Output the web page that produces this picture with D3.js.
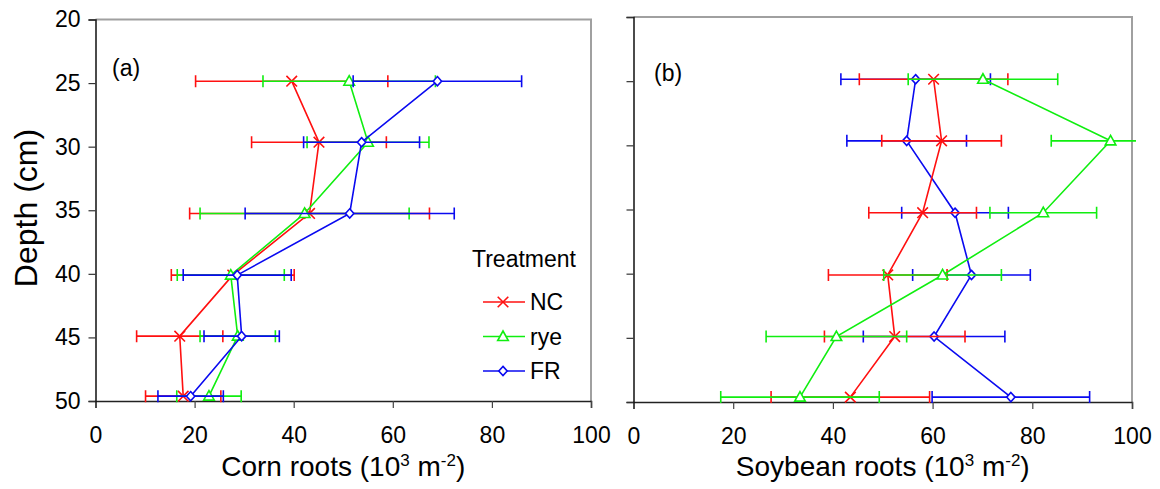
<!DOCTYPE html>
<html>
<head>
<meta charset="utf-8">
<script src="https://cdn.jsdelivr.net/npm/d3@7"></script>
<style>
  html, body { margin: 0; padding: 0; background: #fff; }
  svg { display: block; font-family: "Liberation Sans", Arial, sans-serif; }
</style>
</head>
<body>
<svg id="chart" width="1160" height="489"></svg>
<script>
// ---------------- DATA ----------------
const depths = [24.85, 29.65, 35.25, 40.1, 44.9, 49.62];
const treatments = ["NC", "rye", "FR"];
const xTicks = [0, 20, 40, 60, 80, 100];
const yTicks = [20, 25, 30, 35, 40, 45, 50];

// Corn roots (panel a): means and standard errors
const cornNC = [39.6, 45.1, 43.2, 27.7, 17.0, 17.7];
const cornNCerr = [19.4, 13.6, 24.2, 12.4, 8.7, 7.6];
const cornRye = [51.2, 55.0, 42.2, 27.3, 28.7, 22.9];
const cornRyeErr = [17.4, 12.3, 21.1, 10.8, 7.6, 6.5];
const cornFR = [69.0, 53.7, 51.3, 28.6, 29.5, 19.2];
const cornFRerr = [17.0, 11.7, 21.1, 10.9, 7.6, 6.6];

// Soybean roots (panel b)
const soyNC = [60.2, 61.8, 58.0, 51.0, 52.4, 43.5];
const soyNCerr = [14.9, 12.0, 10.8, 11.9, 14.1, 15.9];
const soyRye = [70.1, 95.7, 82.2, 62.0, 40.7, 33.4];
const soyRyeErr = [15.0, 11.9, 10.7, 11.8, 14.1, 15.9];
const soyFR = [56.6, 54.8, 64.5, 67.8, 60.3, 75.7];
const soyFRerr = [15.0, 12.0, 10.7, 11.8, 14.2, 15.8];

const colors = { NC: "#ff1010", rye: "#10ee10", FR: "#0a0af0" };

// ---------------- DRAW ----------------
const svg = d3.select("#chart");

const panels = [
  { id: "a", label: "(a)", x0: 95.5, x1: 591, yT: 19.5, yB: 401,
    series: [
      { name: "NC", v: cornNC, e: cornNCerr },
      { name: "rye", v: cornRye, e: cornRyeErr },
      { name: "FR", v: cornFR, e: cornFRerr }
    ],
    title: ["Corn roots (10", "3", " m", "-2", ")"], yLabels: true, lx: 112, ly: 76 },
  { id: "b", label: "(b)", x0: 633.5, x1: 1132, yT: 17, yB: 402,
    series: [
      { name: "FR", v: soyFR, e: soyFRerr },
      { name: "NC", v: soyNC, e: soyNCerr },
      { name: "rye", v: soyRye, e: soyRyeErr }
    ],
    title: ["Soybean roots (10", "3", " m", "-2", ")"], yLabels: false, lx: 654, ly: 81 }
];

function markerPath(name) {
  if (name === "NC") return "M-5.3,-5.3L5.3,5.3M-5.3,5.3L5.3,-5.3";
  if (name === "rye") return "M0,-5.5L5.3,4L-5.3,4Z";
  return "M0,-4.6L4.2,0L0,4.6L-4.2,0Z";
}

panels.forEach(p => {
  const x = d3.scaleLinear().domain([0, 100]).range([p.x0, p.x1]);
  const y = d3.scaleLinear().domain([20, 50]).range([p.yT, p.yB]);
  const g = svg.append("g");

  // frame (top & right, gray)
  g.append("path")
    .attr("d", `M${p.x0},${p.yT}H${p.x1}V${p.yB}`)
    .attr("fill", "none").attr("stroke", "#a0a0a0").attr("stroke-width", 2);

  // clip
  const clipId = "clip" + p.id;
  svg.append("clipPath").attr("id", clipId)
    .append("rect").attr("x", p.x0 - 20).attr("y", p.yT).attr("width", p.x1 - p.x0 + 24).attr("height", p.yB - p.yT + 10);

  // x axis
  const xAxis = d3.axisBottom(x).tickValues(xTicks).tickSize(7).tickFormat(d3.format("d"));
  const gx = g.append("g").attr("transform", `translate(0,${p.yB})`).call(xAxis);
  gx.select(".domain").attr("stroke", "#222").attr("stroke-width", 1.5);
  gx.selectAll(".tick line").attr("stroke", "#444").attr("stroke-width", 1.2);
  gx.selectAll(".tick text").attr("font-size", 23).attr("fill", "#000")
    .attr("y", 18).attr("dy", "1.05em")
    .attr("font-family", "Liberation Sans, Arial, sans-serif");

  // y axis
  const yAxis = d3.axisLeft(y).tickValues(yTicks).tickSize(7)
    .tickFormat(p.yLabels ? d3.format("d") : () => "");
  const gy = g.append("g").attr("transform", `translate(${p.x0},0)`).call(yAxis);
  gy.select(".domain").attr("stroke", "#111").attr("stroke-width", 1.5);
  gy.selectAll(".tick line").attr("stroke", "#333").attr("stroke-width", 1.2);
  gy.selectAll(".tick text").attr("font-size", 23).attr("fill", "#000").attr("x", -15)
    .attr("font-family", "Liberation Sans, Arial, sans-serif");

  // series
  const dg = g.append("g").attr("clip-path", `url(#${clipId})`);
  p.series.forEach(s => {
    const col = colors[s.name];
    const pts = s.v.map((v, i) => ({ v, e: s.e[i], d: depths[i] }));
    const sg = dg.append("g");
    // error bars
    pts.forEach(pt => {
      const xl = x(pt.v - pt.e), xr = x(pt.v + pt.e), yy = y(pt.d);
      sg.append("path")
        .attr("d", `M${xl},${yy}H${xr}M${xl},${yy - 6}V${yy + 6}M${xr},${yy - 6}V${yy + 6}`)
        .attr("fill", "none").attr("stroke", col).attr("stroke-width", 1.6);
    });
    // line
    sg.append("path").datum(pts)
      .attr("d", d3.line().x(d => x(d.v)).y(d => y(d.d)))
      .attr("fill", "none").attr("stroke", col).attr("stroke-width", 1.6);
    // markers
    sg.selectAll(".m").data(pts).enter().append("path")
      .attr("transform", d => `translate(${x(d.v)},${y(d.d)})`)
      .attr("d", markerPath(s.name))
      .attr("fill", s.name === "NC" ? "none" : "#fff")
      .attr("stroke", col).attr("stroke-width", 1.6);
  });

  // panel label
  g.append("text").attr("x", p.lx).attr("y", p.ly).attr("font-size", 23).text(p.label);

  // x title
  const t = g.append("text").attr("x", (p.x0 + p.x1) / 2).attr("y", 476)
    .attr("text-anchor", "middle").attr("font-size", 28);
  t.append("tspan").text(p.title[0]);
  t.append("tspan").attr("dy", -10).attr("font-size", 17).text(p.title[1]);
  t.append("tspan").attr("dy", 10).text(p.title[2]);
  t.append("tspan").attr("dy", -10).attr("font-size", 17).text(p.title[3]);
  t.append("tspan").attr("dy", 10).text(p.title[4]);
});

// y title
svg.append("text")
  .attr("transform", "translate(37,208) rotate(-90)")
  .attr("text-anchor", "middle").attr("font-size", 32).text("Depth (cm)");

// legend
const leg = svg.append("g");
leg.append("text").attr("x", 472).attr("y", 267).attr("font-size", 23).text("Treatment");
const legY = [302, 336.5, 371];
treatments.forEach((name, i) => {
  const col = colors[name];
  leg.append("line").attr("x1", 483).attr("x2", 525).attr("y1", legY[i]).attr("y2", legY[i])
    .attr("stroke", col).attr("stroke-width", 1.6);
  leg.append("path").attr("transform", `translate(503,${legY[i]})`)
    .attr("d", markerPath(name)).attr("fill", name === "NC" ? "none" : "#fff")
    .attr("stroke", col).attr("stroke-width", 1.6);
  leg.append("text").attr("x", 530).attr("y", legY[i] + 8).attr("font-size", 23).text(name);
});
</script>
</body>
</html>
